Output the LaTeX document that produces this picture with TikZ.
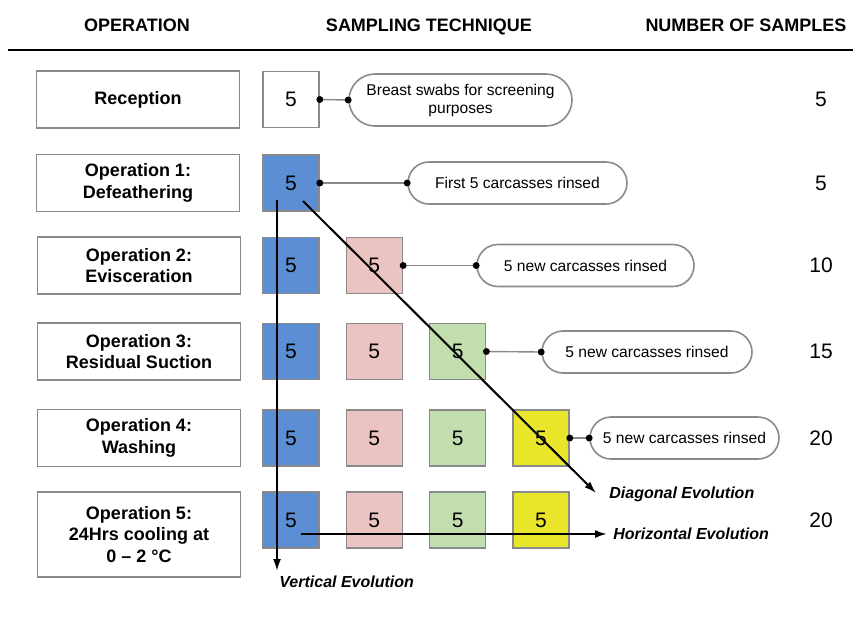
\documentclass[tikz,border=0pt]{standalone}
\usepackage{fontspec}
\setmainfont{Liberation Sans}
\usetikzlibrary{arrows.meta}
\definecolor{edgegray}{HTML}{8A8A8A}
\definecolor{col1}{HTML}{5B8ED2}
\definecolor{col2}{HTML}{EBC3C1}
\definecolor{col3}{HTML}{C2DEAE}
\definecolor{col4}{HTML}{E8E52A}
\begin{document}
\begin{tikzpicture}[x=0.5pt,y=-0.5pt,
  head/.style={anchor=base,font=\bfseries\fontsize{9}{11}\selectfont},
  opbox/.style={draw=edgegray,line width=0.9pt,minimum width=101.5pt,minimum height=28.5pt,
    inner sep=0pt,align=center,font=\bfseries\fontsize{9}{10.8}\selectfont},
  sample/.style={draw=edgegray,line width=0.8pt,minimum width=28pt,minimum height=28pt,
    inner sep=0pt,font=\fontsize{10.5}{12}\selectfont},
  note/.style={draw=edgegray,line width=0.8pt,rounded corners=10.5pt,minimum height=21pt,
    inner sep=0pt,align=center,font=\fontsize{7.8}{9}\selectfont},
  link/.style={draw=edgegray,line width=0.7pt,shorten <=-1.7pt,shorten >=-1.7pt,
    {Circle[length=3.4pt,black]}-{Circle[length=3.4pt,black]}},
  evo/.style={line width=1pt,-{Latex[length=6pt,width=4pt]}},
  evolabel/.style={font=\bfseries\itshape\fontsize{8}{10}\selectfont},
  count/.style={font=\fontsize{10.5}{12}\selectfont}]
  \useasboundingbox (0,0) rectangle (853,623);

  \node[head] (h1) at (137,31) {OPERATION};
  \node[head] (h2) at (429,31) {SAMPLING TECHNIQUE};
  \node[head] (h3) at (746,31) {NUMBER OF SAMPLES};
  \coordinate (rule0) at (8,50);
  \coordinate (rule1) at (853,50);
  \draw[line width=1.2pt] (rule0) -- (rule1);

  \node[opbox] (op0) at (138,99.5) {Reception};
  \node[opbox] (op1) at (138,183) {Operation 1:\\Defeathering};
  \node[opbox] (op2) at (139,265.5) {Operation 2:\\Evisceration};
  \node[opbox] (op3) at (139,351.5) {Operation 3:\\Residual Suction};
  \node[opbox] (op4) at (139,438) {Operation 4:\\Washing};
  \node[opbox,minimum height=42.5pt] (op5) at (139,534.5) {Operation 5:\\24Hrs cooling at\\0 -- 2 °C};

  \node[sample] (s0) at (291,99.5) {5};
  \foreach \r/\y/\n in {1/183/1,2/265.5/2,3/351.5/3,4/438/4,5/520/4} {
    \foreach \c in {1,...,\n} {
      \node[sample,fill=col\c] (s\r-\c) at ({291+83.33*(\c-1)},\y) {5};
    }
  }

  \node[note,minimum width=111.5pt,minimum height=26pt,rounded corners=13pt] (c0) at (460.5,100) {Breast swabs for screening\\purposes};
  \node[note,minimum width=109.5pt] (c1) at (517.5,183) {First 5 carcasses rinsed};
  \node[note,minimum width=108.5pt] (c2) at (585.5,265.5) {5 new carcasses rinsed};
  \node[note,minimum width=105pt] (c3) at (647,352) {5 new carcasses rinsed};
  \node[note,minimum width=94.5pt] (c4) at (684.5,438) {5 new carcasses rinsed};

  \draw[link] (s0.east) -- (c0.west);
  \foreach \r in {1,...,4} {
    \draw[link] (s\r-\r.east) -- (c\r.west);
  }

  \foreach \i/\y/\v in {0/99.5/5,1/183/5,2/265.5/10,3/351.5/15,4/438/20,5/520/20} {
    \node[count] (n\i) at (821,\y) {\v};
  }

  \coordinate (vtop) at (277,200);
  \coordinate (vbot) at (277,571);
  \coordinate (dtop) at (303,201);
  \coordinate (dbot) at (596,493);
  \coordinate (hleft) at (301,534);
  \coordinate (hright) at (607,534);
  \draw[evo] (vtop) -- (vbot);
  \draw[evo] (dtop) -- (dbot);
  \draw[evo] (hleft) -- (hright);
  \node[evolabel,anchor=west,inner sep=0pt] (vlab) at (279,582) {Vertical Evolution};
  \node[evolabel,anchor=west,inner sep=0pt] (dlab) at (609,494) {Diagonal Evolution};
  \node[evolabel,anchor=west,inner sep=0pt] (hlab) at (613,534) {Horizontal Evolution};
\end{tikzpicture}
\end{document}
